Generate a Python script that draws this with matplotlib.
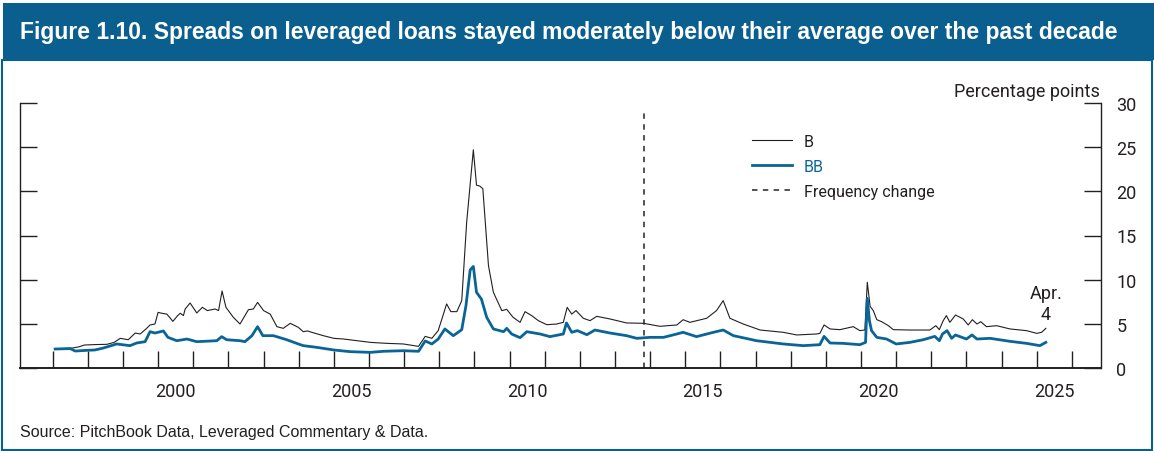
import matplotlib
matplotlib.use("Agg")
import matplotlib.pyplot as plt
from matplotlib.lines import Line2D
from matplotlib.patches import Rectangle
import numpy as np

# decimal years (monthly until late 2013, weekly after)
b_years = [1997.07, 1997.3, 1997.55, 1997.75, 1997.9, 1998.2, 1998.54, 1998.75, 1998.92,
           1999.15, 1999.35, 1999.49, 1999.65, 1999.77, 1999.91, 2000.0, 2000.1, 2000.25,
           2000.42, 2000.55, 2000.63, 2000.72, 2000.77, 2000.91, 2001.1, 2001.26, 2001.4,
           2001.62, 2001.72, 2001.82, 2001.93, 2002.14, 2002.33, 2002.45, 2002.57, 2002.71,
           2002.83, 2003.0, 2003.19, 2003.38, 2003.56, 2003.76, 2003.99, 2004.13, 2004.25,
           2004.37, 2004.7, 2005.0, 2005.28, 2005.66, 2006.04, 2006.51, 2006.98, 2007.41,
           2007.6, 2007.79, 2007.97, 2008.21, 2008.33, 2008.5, 2008.64, 2008.78, 2008.97,
           2009.06, 2009.15, 2009.24, 2009.4, 2009.54, 2009.78, 2009.92, 2010.1, 2010.3,
           2010.44, 2010.63, 2010.82, 2011.06, 2011.34, 2011.53, 2011.64, 2011.77, 2011.89,
           2012.1, 2012.29, 2012.48, 2012.86, 2013.33, 2013.81, 2014.28, 2014.76, 2014.94,
           2015.13, 2015.61, 2015.89, 2016.08, 2016.27, 2016.65, 2017.13, 2017.79, 2018.17,
           2018.74, 2018.83, 2018.95, 2019.12, 2019.4, 2019.78, 2019.97, 2020.11, 2020.18,
           2020.26, 2020.35, 2020.45, 2020.59, 2020.78, 2020.92, 2021.39, 2021.96, 2022.13,
           2022.23, 2022.34, 2022.43, 2022.53, 2022.69, 2022.91, 2023.05, 2023.17, 2023.3,
           2023.41, 2023.57, 2023.86, 2024.24, 2024.71, 2025.0, 2025.14, 2025.26]
b_spread = [2.15, 2.2, 2.25, 2.4, 2.6, 2.65, 2.68, 2.9, 3.36,
            3.2, 3.96, 3.85, 4.4, 4.87, 4.98, 6.3, 6.2, 6.1,
            5.28, 5.9, 6.2, 5.93, 6.68, 7.36, 6.23, 6.87, 6.5,
            6.68, 6.5, 8.72, 6.87, 5.74, 4.98, 5.8, 6.6, 6.68,
            7.43, 6.5, 6.1, 4.68, 4.49, 5.06, 4.6, 4.11, 4.2,
            4.04, 3.66, 3.36, 3.28, 3.09, 2.9, 2.79, 2.72, 2.45,
            3.58, 3.36, 4.23, 7.25, 6.38, 6.38, 7.63, 16.5, 24.7,
            20.7, 20.6, 20.3, 11.6, 8.57, 6.49, 6.64, 5.74, 5.17,
            6.38, 5.93, 5.36, 4.9, 4.98, 5.17, 6.87, 6.1, 6.5,
            5.63, 5.36, 5.85, 5.55, 5.1, 5.06, 4.72, 4.87, 5.47,
            5.17, 5.63, 6.5, 7.63, 5.63, 4.98, 4.3, 4.04, 3.74,
            3.85, 3.92, 4.87, 4.42, 4.34, 4.68, 4.23, 4.3, 9.7,
            6.98, 6.5, 5.47, 5.24, 4.79, 4.34, 4.3, 4.3, 4.79,
            4.34, 5.36, 5.93, 5.17, 6.0, 5.55, 4.87, 5.47, 4.98,
            5.24, 4.68, 4.79, 4.42, 4.23, 3.92, 4.04, 4.49]

bb_years = [1997.07, 1997.5, 1997.64, 1997.97, 1998.2, 1998.44, 1998.82, 1999.2, 1999.39,
            1999.63, 1999.77, 1999.91, 2000.15, 2000.28, 2000.53, 2000.82, 2001.1, 2001.67,
            2001.81, 2001.95, 2002.33, 2002.47, 2002.67, 2002.83, 2002.98, 2003.28, 2003.66,
            2003.99, 2004.13, 2004.51, 2005.0, 2005.46, 2006.04, 2006.41, 2006.98, 2007.41,
            2007.6, 2007.79, 2007.97, 2008.16, 2008.4, 2008.64, 2008.76, 2008.88, 2008.97,
            2009.06, 2009.2, 2009.35, 2009.54, 2009.83, 2009.92, 2010.06, 2010.3, 2010.49,
            2010.87, 2011.15, 2011.53, 2011.62, 2011.77, 2011.93, 2012.2, 2012.43, 2012.86,
            2013.33, 2013.62, 2014.0, 2014.38, 2014.76, 2014.94, 2015.32, 2015.8, 2016.08,
            2016.37, 2017.03, 2017.79, 2018.36, 2018.83, 2018.95, 2019.12, 2019.49, 2019.97,
            2020.13, 2020.18, 2020.24, 2020.3, 2020.45, 2020.73, 2021.0, 2021.39, 2021.77,
            2022.1, 2022.23, 2022.32, 2022.45, 2022.58, 2022.69, 2023.0, 2023.16, 2023.3,
            2023.67, 2024.24, 2024.71, 2025.09, 2025.26]
bb_spread = [2.15, 2.2, 1.92, 2.0, 2.04, 2.26, 2.72, 2.53, 2.83,
             2.98, 4.11, 3.96, 4.19, 3.47, 3.09, 3.28, 2.98, 3.09,
             3.55, 3.2, 3.09, 2.98, 3.66, 4.68, 3.66, 3.66, 3.2,
             2.72, 2.53, 2.34, 2.04, 1.85, 1.77, 1.89, 1.96, 1.89,
             3.06, 2.72, 3.28, 4.42, 3.66, 4.34, 7.06, 11.1, 11.5,
             8.57, 7.8, 5.74, 4.42, 4.11, 4.49, 3.85, 3.43, 4.11,
             3.85, 3.55, 3.85, 5.1, 4.04, 4.23, 3.77, 4.3, 3.96,
             3.66, 3.36, 3.47, 3.47, 3.85, 4.04, 3.55, 4.04, 4.3,
             3.66, 3.09, 2.72, 2.53, 2.64, 3.58, 2.83, 2.79, 2.64,
             2.9, 7.89, 5.36, 4.23, 3.47, 3.28, 2.72, 2.9, 3.2,
             3.58, 3.09, 3.85, 4.23, 3.36, 3.74, 3.28, 3.74, 3.28,
             3.36, 3.02, 2.79, 2.53, 2.9]

freq_change = 2013.83
years = list(range(1997, 2027))
label_years = [2000, 2005, 2010, 2015, 2020, 2025]
y_ticks = [0, 5, 10, 15, 20, 25, 30]

blue = "#0a6597"
dark = "#231f20"
header = "#0a5f8f"
font = ["Roboto", "DejaVu Sans"]

fig = plt.figure(figsize=(11.54, 4.52), dpi=100)
W, H = 1154, 452

# header bar and frame
fig.patches.append(Rectangle((3 / W, 1 - 61 / H), 1 - 3 / W, 57 / H, transform=fig.transFigure,
                             facecolor=header, edgecolor="none", zorder=0))
fig.patches.append(Rectangle((2 / W, 1 / H), 1 - 4 / W, 1 - 62 / H, transform=fig.transFigure,
                             facecolor="none", edgecolor=header, lw=1.5, zorder=0))
fig.text(20 / W, 1 - 32 / H,
         "Figure 1.10. Spreads on leveraged loans stayed moderately below their average over the past decade",
         color="white", fontsize=16.5, fontweight="bold", family=["Liberation Sans", "DejaVu Sans"],
         ha="left", va="center")

ax = fig.add_axes([20 / W, 1 - 369 / H, (1101 - 20) / W, (369 - 104) / H])
ax.plot(b_years, b_spread, color=dark, lw=0.8, zorder=3)
ax.plot(bb_years, bb_spread, color=blue, lw=2.0, zorder=4)
ax.axvline(freq_change, ymax=0.965, color="#444444", lw=1.3, dashes=(3, 3), zorder=2)

ax.set_xlim(1996.07, 2026.83)
ax.set_ylim(0, 30)
ax.spines["top"].set_visible(False)
for s in ["left", "right", "bottom"]:
    ax.spines[s].set_color(dark)
    ax.spines[s].set_linewidth(1.0)
ax.spines["bottom"].set_linewidth(1.4)

ax.set_yticks(y_ticks)
ax.tick_params(axis="y", direction="in", left=True, right=True, labelleft=False, labelright=True,
               length=12, width=1, color=dark, pad=11, labelsize=13, labelcolor=dark)
ax.set_xticks(years)
ax.set_xticklabels([])
ax.set_xticks([y + 0.5 for y in label_years], minor=True)
ax.set_xticklabels([str(y) for y in label_years], minor=True)
ax.tick_params(axis="x", which="major", direction="in", length=12, width=1, color=dark)
ax.tick_params(axis="x", which="minor", length=0, pad=10, labelsize=13, labelcolor=dark)
for lab in ax.get_xticklabels(minor=True) + ax.get_yticklabels():
    lab.set_family(font)

ax.text(2025.26, 7.3, "Apr.\n4", ha="center", va="center", fontsize=13, color=dark,
        family=font, linespacing=1.25)

fig.text(1100 / W, 1 - 97 / H, "Percentage points", ha="right", va="baseline",
         fontsize=13, color=dark, family=font)

handles = [Line2D([], [], color=dark, lw=0.8),
           Line2D([], [], color=blue, lw=2.0),
           Line2D([], [], color="#444444", lw=1.3, dashes=(3, 3))]
leg = ax.legend(handles, ["B", "BB", "Frequency change"], loc="upper left",
                bbox_to_anchor=(752 / W, 1 - 135 / H), bbox_transform=fig.transFigure,
                frameon=False, borderpad=0, borderaxespad=0, handlelength=2.5,
                handletextpad=0.75, labelspacing=0.62, prop={"family": font, "size": 11.5},
                labelcolor=[dark, blue, dark])

fig.text(20 / W, 1 - 437 / H, "Source: PitchBook Data, Leveraged Commentary & Data.",
         ha="left", va="baseline", fontsize=11.5, color=dark, family=["Liberation Sans", "DejaVu Sans"])

fig.savefig("out.png", dpi=100)
